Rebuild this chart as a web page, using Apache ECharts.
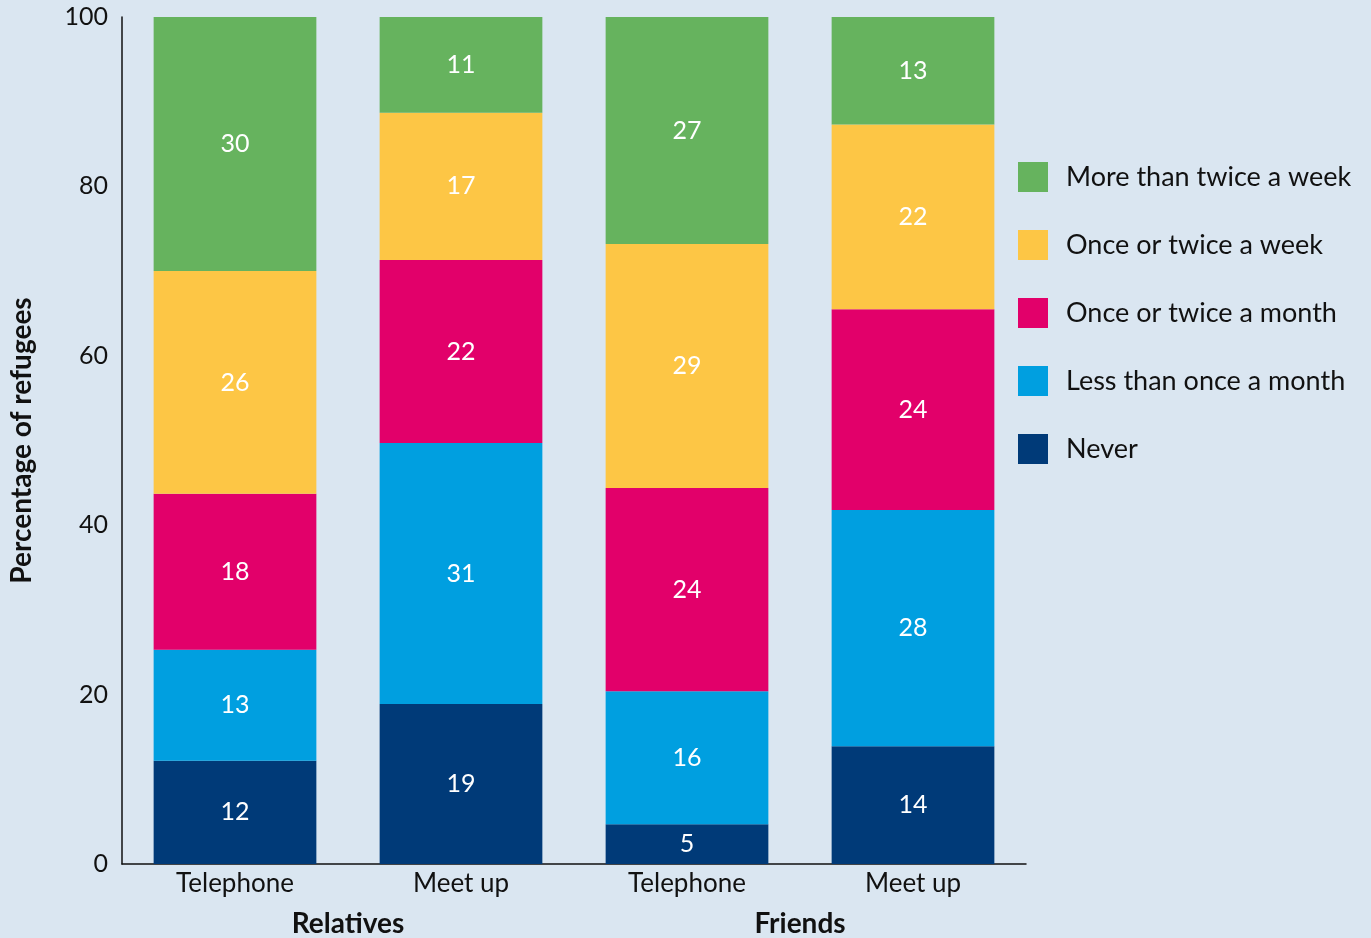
<!DOCTYPE html>
<html><head><meta charset="utf-8">
<script src="https://cdn.jsdelivr.net/npm/echarts@6/dist/echarts.min.js"></script>
<style>html,body{margin:0;padding:0;background:#dae6f1;}#c{width:1371px;height:938px;}</style>
</head><body><div id="c"></div>
<script>
const categories = ['Telephone', 'Meet up', 'Telephone', 'Meet up'];
const groups = ['Relatives', 'Friends'];
const yTicks = [0, 20, 40, 60, 80, 100];
const seriesNames = ['Never', 'Less than once a month', 'Once or twice a month', 'Once or twice a week', 'More than twice a week'];
const never = [12.2, 18.9, 4.7, 13.9];
const lessMonth = [13.1, 30.8, 15.7, 27.9];
const onceMonth = [18.4, 21.6, 24.0, 23.7];
const onceWeek = [26.3, 17.4, 28.8, 21.8];
const moreWeek = [30.0, 11.3, 26.8, 12.7];
const colors = ['#003a78', '#009fe0', '#e2006a', '#fdc645', '#66b35e'];
const values = [never, lessMonth, onceMonth, onceWeek, moreWeek];
const font = 'Lato, "Open Sans", sans-serif';

const chart = echarts.init(document.getElementById('c'));
chart.setOption({
  backgroundColor: '#dae6f1',
  animation: false,
  textStyle: { fontFamily: font },
  grid: { left: 122, top: 17, right: 345, bottom: 74 },
  legend: {
    orient: 'vertical', left: 1013, top: 157,
    itemWidth: 30, itemHeight: 30, itemGap: 38,
    icon: 'rect',
    data: seriesNames.slice().reverse(),
    textStyle: { fontSize: 27, color: '#111', fontFamily: font, padding: [0, 0, 0, 13] }
  },
  xAxis: [{
    type: 'category', data: categories,
    axisLine: { lineStyle: { color: '#111', width: 1.5 } },
    axisTick: { show: false },
    axisLabel: { fontSize: 26, color: '#111', margin: 7, fontFamily: font }
  }, {
    type: 'category', data: groups, position: 'bottom', offset: 40,
    axisLine: { show: false }, axisTick: { show: false },
    axisLabel: { fontSize: 28, fontWeight: 'bold', color: '#111', margin: 6, fontFamily: font }
  }],
  yAxis: {
    type: 'value', min: yTicks[0], max: yTicks[yTicks.length - 1], interval: 20,
    name: 'Percentage of refugees', nameLocation: 'middle', nameGap: 86,
    nameTextStyle: { fontSize: 28, fontWeight: 'bold', color: '#111', fontFamily: font },
    axisLine: { show: true, lineStyle: { color: '#111', width: 1.5 } },
    axisTick: { show: false },
    splitLine: { show: false },
    axisLabel: { fontSize: 25, color: '#111', margin: 14, fontFamily: font }
  },
  series: seriesNames.map((n, i) => ({
    name: n, type: 'bar', stack: 'a', barWidth: '72%',
    xAxisIndex: 0,
    itemStyle: { color: colors[i] },
    data: values[i],
    label: {
      show: true, position: 'inside', color: '#fff', fontSize: 25, fontFamily: font,
      formatter: p => Math.round(p.value)
    }
  }))
});
</script></body></html>
